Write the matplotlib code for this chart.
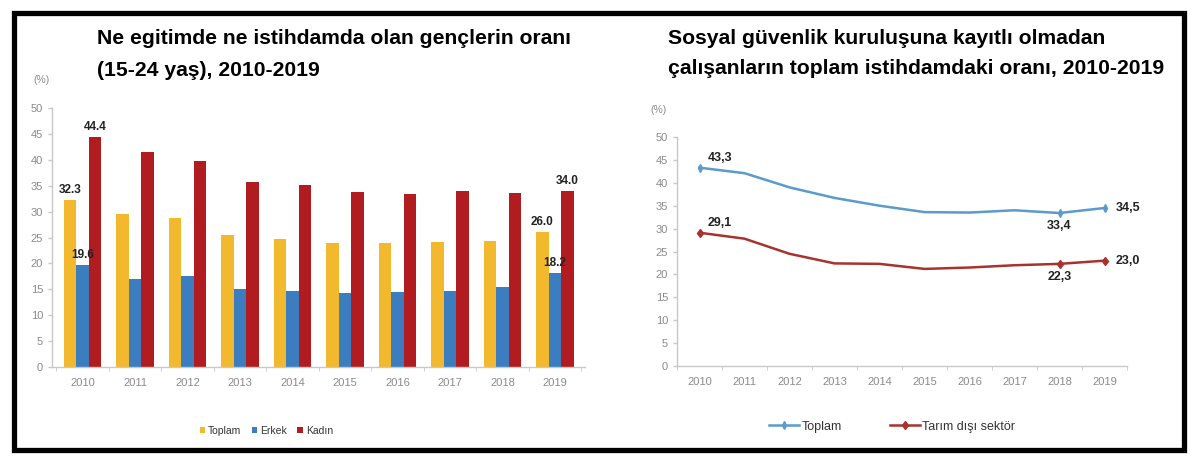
import matplotlib.pyplot as plt
from matplotlib.patches import Rectangle
import numpy as np

years = ['2010', '2011', '2012', '2013', '2014', '2015', '2016', '2017', '2018', '2019']

# left chart: NEET rate (15-24)
neet_toplam = [32.3, 29.6, 28.7, 25.4, 24.8, 24.0, 24.0, 24.2, 24.4, 26.0]
neet_erkek = [19.6, 16.9, 17.5, 15.0, 14.7, 14.3, 14.5, 14.6, 15.4, 18.2]
neet_kadin = [44.4, 41.5, 39.7, 35.8, 35.1, 33.7, 33.4, 33.9, 33.5, 34.0]

# right chart: informal employment
kayitdisi_toplam = [43.3, 42.1, 39.0, 36.7, 35.0, 33.6, 33.5, 34.0, 33.4, 34.5]
kayitdisi_tarimdisi = [29.1, 27.8, 24.5, 22.4, 22.3, 21.2, 21.5, 22.0, 22.3, 23.0]

plt.rcParams['font.family'] = ['Liberation Sans', 'DejaVu Sans']

c_yel, c_blu, c_red = '#F2B92E', '#3B7DBF', '#B01C1F'
c_lblu, c_lred = '#5A9BCB', '#A8322D'
grid_c = '#C8C8C8'
tick_c = '#8A8A8A'
title_fs = 15.2

fig = plt.figure(figsize=(12, 4.66), dpi=100)

# black frame
fig.patches.append(Rectangle((14 / 1200, 1 - 450 / 466), (1184 - 14) / 1200, (450 - 12.5) / 466,
                             transform=fig.transFigure, fill=False, lw=3.8, ec='black'))


def style_axis(ax):
    for s in ['top', 'right']:
        ax.spines[s].set_visible(False)
    for s in ['left', 'bottom']:
        ax.spines[s].set_color(grid_c)
        ax.spines[s].set_linewidth(1.0)
    ax.set_ylim(0, 50)
    ax.set_yticks(range(0, 51, 5))
    ax.tick_params(axis='both', colors=grid_c, labelcolor=tick_c, labelsize=8, length=3, width=1)
    ax.tick_params(axis='x', pad=8)


# ---- left: bars
x = np.arange(len(years))
ax1 = fig.add_axes([52 / 1200, 1 - 367 / 466, (585 - 52) / 1200, (367 - 108) / 466])
w = 0.24
ax1.bar(x - w, neet_toplam, w, color=c_yel, label='Toplam')
ax1.bar(x, neet_erkek, w, color=c_blu, label='Erkek')
ax1.bar(x + w, neet_kadin, w, color=c_red, label='Kadın')
style_axis(ax1)
ax1.set_xlim(-0.58, 9.57)
ax1.set_xticks(x)
ax1.set_xticklabels(years)
ax1.set_xticks(np.arange(-0.5, 10, 1), minor=True)
ax1.tick_params(axis='x', which='major', length=0)
ax1.tick_params(axis='x', which='minor', length=3, color=grid_c)

for i in [0, 9]:
    for xs, vals in [(x - w, neet_toplam), (x, neet_erkek), (x + w, neet_kadin)]:
        ax1.annotate(f'{vals[i]:.1f}', (xs[i], vals[i]), xytext=(0, 3), textcoords='offset points',
                     ha='center', va='bottom', fontsize=8.5, fontweight='bold', color='#222222')

ax1.legend(loc='upper left', bbox_to_anchor=(0.26, -0.19), ncol=3, frameon=False, fontsize=7.5,
           handlelength=0.5, handleheight=0.5, handletextpad=0.3, columnspacing=1.0, labelcolor='#333333')

fig.text(33 / 1200, 1 - 80 / 466, '(%)', fontsize=7.5, color=tick_c, va='center')
fig.text(97 / 1200, 1 - 38 / 466, 'Ne egitimde ne istihdamda olan gençlerin oranı',
         fontsize=title_fs, fontweight='bold', va='center')
fig.text(97 / 1200, 1 - 70 / 466, '(15-24 yaş), 2010-2019', fontsize=title_fs, fontweight='bold', va='center')

# ---- right: lines
ax2 = fig.add_axes([677 / 1200, 1 - 366 / 466, (1127 - 677) / 1200, (366 - 137) / 466])
ax2.plot(x, kayitdisi_toplam, color=c_lblu, lw=1.8, marker='d', ms=4, markevery=[0, 8, 9], label='Toplam')
ax2.plot(x, kayitdisi_tarimdisi, color=c_lred, lw=1.8, marker='d', ms=4.5, markevery=[0, 8, 9],
         label='Tarım dışı sektör')
style_axis(ax2)
ax2.set_xlim(-0.5, 9.5)
ax2.set_xticks(x)
ax2.set_xticklabels(years)
ax2.set_xticks(np.arange(-0.5, 10, 1), minor=True)
ax2.tick_params(axis='x', which='major', length=0)
ax2.tick_params(axis='x', which='minor', length=3, color=grid_c)


def lab(v):
    return f'{v:.1f}'.replace('.', ',')


for series in [kayitdisi_toplam, kayitdisi_tarimdisi]:
    ax2.annotate(lab(series[0]), (0, series[0]), xytext=(6, 3), textcoords='offset points',
                 ha='left', va='bottom', fontsize=9, fontweight='bold', color='#222222')
    ax2.annotate(lab(series[8]), (8, series[8]), xytext=(0, -5), textcoords='offset points',
                 ha='center', va='top', fontsize=9, fontweight='bold', color='#222222')
    ax2.annotate(lab(series[9]), (9, series[9]), xytext=(8, 0), textcoords='offset points',
                 ha='left', va='center', fontsize=9, fontweight='bold', color='#222222')

ax2.legend(loc='upper left', bbox_to_anchor=(0.18, -0.19), ncol=2, frameon=False, fontsize=9,
           handlelength=2.4, handletextpad=0.2, columnspacing=3.8, labelcolor='#333333')

fig.text(650 / 1200, 1 - 110 / 466, '(%)', fontsize=7.5, color=tick_c, va='center')
fig.text(668 / 1200, 1 - 38 / 466, 'Sosyal güvenlik kuruluşuna kayıtlı olmadan',
         fontsize=title_fs, fontweight='bold', va='center')
fig.text(668 / 1200, 1 - 68 / 466, 'çalışanların toplam istihdamdaki oranı, 2010-2019',
         fontsize=title_fs, fontweight='bold', va='center')

fig.savefig('out.png', dpi=100)
